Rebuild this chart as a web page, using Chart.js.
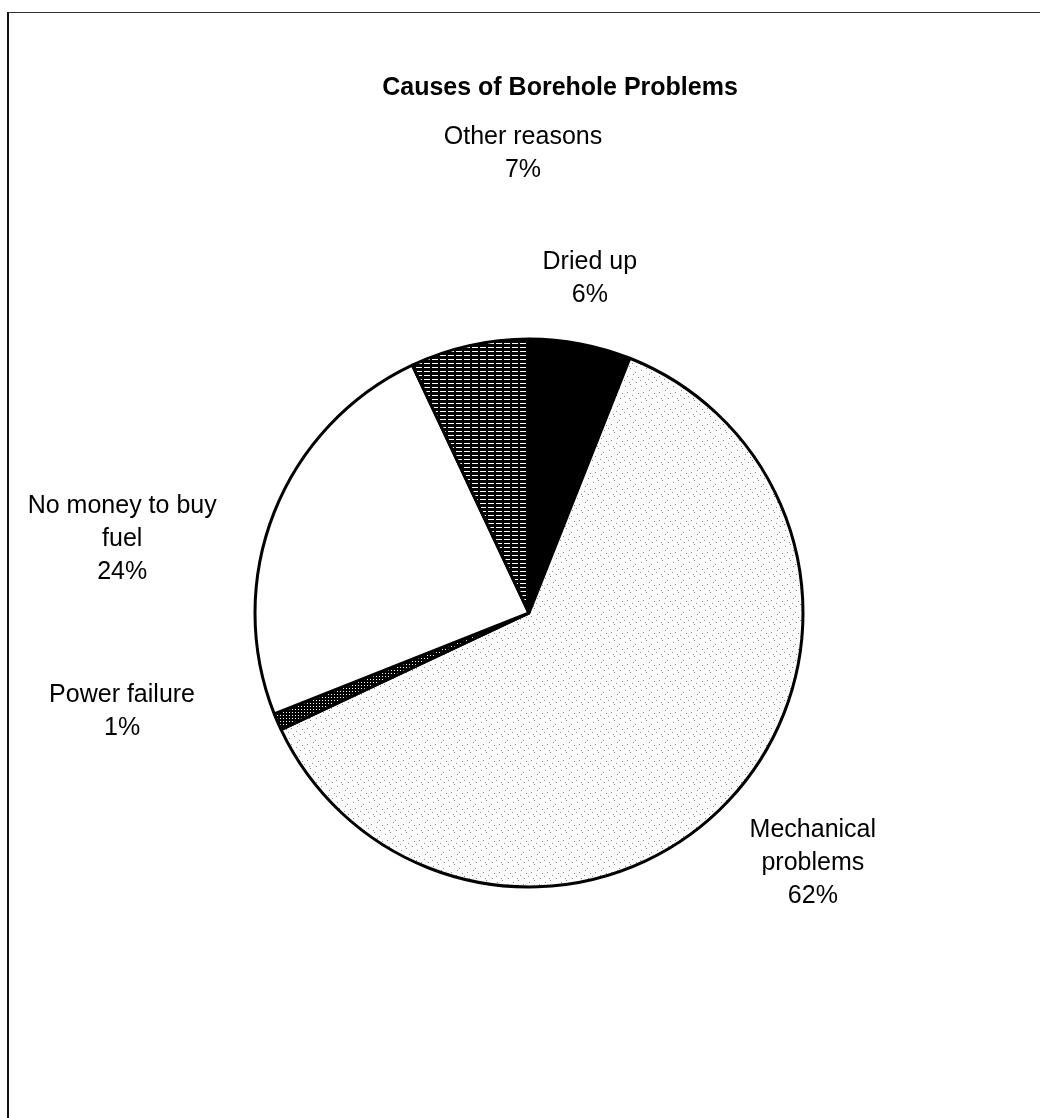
<!DOCTYPE html>
<html lang="en">
<head>
  <meta charset="UTF-8" />
  <title>Causes of Borehole Problems</title>
  <script src="https://cdn.jsdelivr.net/npm/chart.js"></script>
  <style>
    html, body { margin: 0; padding: 0; background: #fff; }
    .wrap { position: relative; width: 1040px; height: 1118px; }
    .frame {
      position: absolute; left: 7px; top: 12px; right: 0; bottom: 0;
      border-left: 2px solid #111; border-top: 1px solid #333;
    }
    canvas { position: absolute; left: 0; top: 0; }
  </style>
</head>
<body>
  <div class="wrap">
    <div class="frame"></div>
    <canvas id="chartPie" width="1040" height="1118"></canvas>
  </div>

  <script>
    const chartTitle = 'Causes of Borehole Problems';
    const categories = ['Dried up', 'Mechanical problems', 'Power failure', 'No money to buy fuel', 'Other reasons'];
    const shares = [6, 62, 1, 24, 7];

    // label placement around each slice: nudge of the mid angle (deg) and distance in radii
    const labelNudge = [-0.5, -1.8, 9.8, -11.3, 11.85];
    const labelDist = [1.241, 1.381, 1.528, 1.509, 1.675];

    function makePattern(w, h, draw) {
      const c = document.createElement('canvas');
      c.width = w; c.height = h;
      const g = c.getContext('2d');
      draw(g);
      return g.createPattern(c, 'repeat');
    }

    // light stipple for the big slice
    const stipple = makePattern(16, 16, g => {
      g.fillStyle = '#fcfcfc';
      g.fillRect(0, 0, 16, 16);
      g.fillStyle = '#8a8a8a';
      const dots = [[1, 2], [6, 0], [11, 4], [14, 9], [3, 8], [8, 11], [12, 14], [5, 14], [9, 6], [0, 12]];
      dots.forEach(d => g.fillRect(d[0], d[1], 1, 1));
    });

    // horizontal lines
    const hlines = makePattern(8, 4, g => {
      g.fillStyle = '#000';
      g.fillRect(0, 0, 8, 4);
      g.fillStyle = '#fff';
      g.fillRect(0, 3, 6, 1);
    });

    // dark grid
    const grid = makePattern(3, 3, g => {
      g.fillStyle = '#000';
      g.fillRect(0, 0, 3, 3);
      g.fillStyle = '#fff';
      g.fillRect(1, 1, 1, 1);
    });

    const sliceFills = ['#000', stipple, grid, '#fff', hlines];

    function wrapLabel(ctx, text, maxW) {
      const words = text.split(' ');
      const lines = [];
      let cur = '';
      words.forEach(w => {
        const t = cur ? cur + ' ' + w : w;
        if (ctx.measureText(t).width > maxW && cur) {
          lines.push(cur);
          cur = w;
        } else {
          cur = t;
        }
      });
      if (cur) lines.push(cur);
      return lines;
    }

    const pieText = {
      id: 'pieText',
      afterDraw(chart) {
        const ctx = chart.ctx;
        const arcs = chart.getDatasetMeta(0).data;
        ctx.save();
        ctx.fillStyle = '#000';
        ctx.textAlign = 'center';
        ctx.textBaseline = 'middle';

        ctx.font = 'bold 25px "Liberation Sans", Arial, sans-serif';
        ctx.fillText(chartTitle, 560, 88);

        ctx.font = '25px "Liberation Sans", Arial, sans-serif';
        const lineH = 33;
        arcs.forEach((arc, i) => {
          const p = arc.getProps(['x', 'y', 'startAngle', 'endAngle', 'outerRadius'], true);
          const a = (p.startAngle + p.endAngle) / 2 + labelNudge[i] * Math.PI / 180;
          const d = p.outerRadius * labelDist[i];
          const cx = p.x + Math.cos(a) * d;
          const cy = p.y + Math.sin(a) * d;
          const lines = wrapLabel(ctx, categories[i], 200);
          lines.push(shares[i] + '%');
          const top = cy - (lines.length - 1) * lineH / 2;
          lines.forEach((ln, k) => ctx.fillText(ln, cx, top + k * lineH));
        });
        ctx.restore();
      }
    };

    new Chart(document.getElementById('chartPie').getContext('2d'), {
      type: 'pie',
      data: {
        labels: categories,
        datasets: [{
          data: shares,
          backgroundColor: sliceFills,
          borderColor: '#000',
          borderWidth: 3
        }]
      },
      options: {
        responsive: false,
        animation: false,
        layout: { padding: { left: 253.5, right: 235.5, top: 337.5, bottom: 229.5 } },
        plugins: {
          legend: { display: false },
          tooltip: { enabled: false },
          title: { display: false }
        }
      },
      plugins: [pieText]
    });
  </script>
</body>
</html>
